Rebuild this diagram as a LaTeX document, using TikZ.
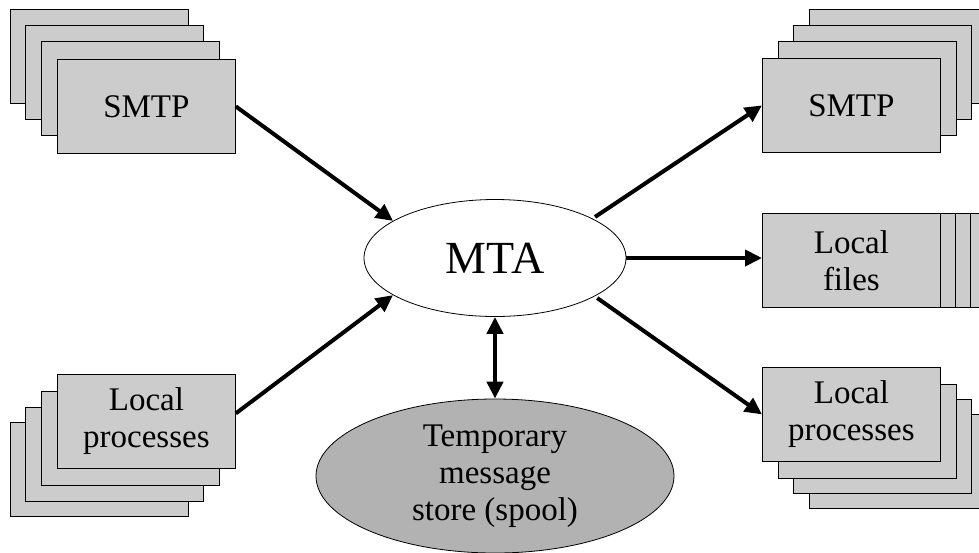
\documentclass[tikz,border=0pt]{standalone}
\usepackage{fontspec}
\setmainfont{Liberation Serif}
\usetikzlibrary{arrows.meta,shapes.geometric}

\definecolor{sheetgray}{gray}{0.80}
\definecolor{spoolgray}{gray}{0.70}

\tikzset{
  sheet/.style={draw=black, line width=0.8pt, fill=sheetgray},
  frontbox/.style={sheet, rectangle, minimum width=178pt, minimum height=94pt,
    inner sep=0pt, align=center, font=\fontsize{33}{37}\selectfont},
  flow/.style={line width=4pt, -{Triangle[length=17pt,width=16pt]}},
  twoway/.style={line width=4.5pt, {Triangle[length=17pt,width=16pt]}-{Triangle[length=17pt,width=16pt]}},
}

% a sheet of a stack, 178 x 94, given by its top-left corner
\newcommand{\backsheet}[2]{\draw[sheet] (#1,#2) rectangle ++(178,94);}

\begin{document}
\begin{tikzpicture}[x=1pt,y=-1pt]
\useasboundingbox (0,0) rectangle (979,552);

% incoming SMTP stack
\backsheet{10}{9}
\backsheet{25}{25}
\backsheet{41}{41}
\node[frontbox, anchor=north west] (smtpin) at (57,59) {SMTP};

% incoming local processes stack
\backsheet{10}{422}
\backsheet{25}{407}
\backsheet{41}{391}
\node[frontbox, anchor=north west] (procin) at (57,374) {Local\\processes};

% outgoing SMTP stack
\backsheet{809}{9}
\backsheet{793}{25}
\backsheet{778}{41}
\node[frontbox, anchor=north west] (smtpout) at (762,58) {SMTP};

% local files, sheets stacked sideways
\backsheet{807}{213}
\backsheet{792}{213}
\backsheet{777}{213}
\node[frontbox, anchor=north west] (files) at (762,213) {Local\\files};

% outgoing local processes stack
\backsheet{809}{414}
\backsheet{793}{399}
\backsheet{778}{384}
\node[frontbox, anchor=north west] (procout) at (762,367) {Local\\processes};

% the transfer agent and its spool
\node[ellipse, draw=black, line width=0.8pt, fill=white, minimum width=262pt,
  minimum height=117pt, inner sep=0pt, font=\fontsize{46}{52}\selectfont] (mta) at (495,258) {MTA};
\node[ellipse, draw=black, line width=0.8pt, fill=spoolgray, minimum width=358pt,
  minimum height=154pt, inner sep=0pt, align=center,
  font=\fontsize{33}{37}\selectfont] (spool) at (495,476) {Temporary\\message\\store (spool)};

% message flow
\draw[flow] (smtpin.east) -- (mta.160);
\draw[flow] ([yshift=8pt]procin.east) -- (mta.200);
\draw[flow, shorten <=3pt] (mta.22) -- (smtpout.west);
\draw[flow] (mta.east) -- (mta.east -| files.west);
\draw[flow, shorten <=3pt] (mta.-21) -- (procout.west);
\draw[twoway] (mta.south) -- (spool.north);
\end{tikzpicture}
\end{document}
